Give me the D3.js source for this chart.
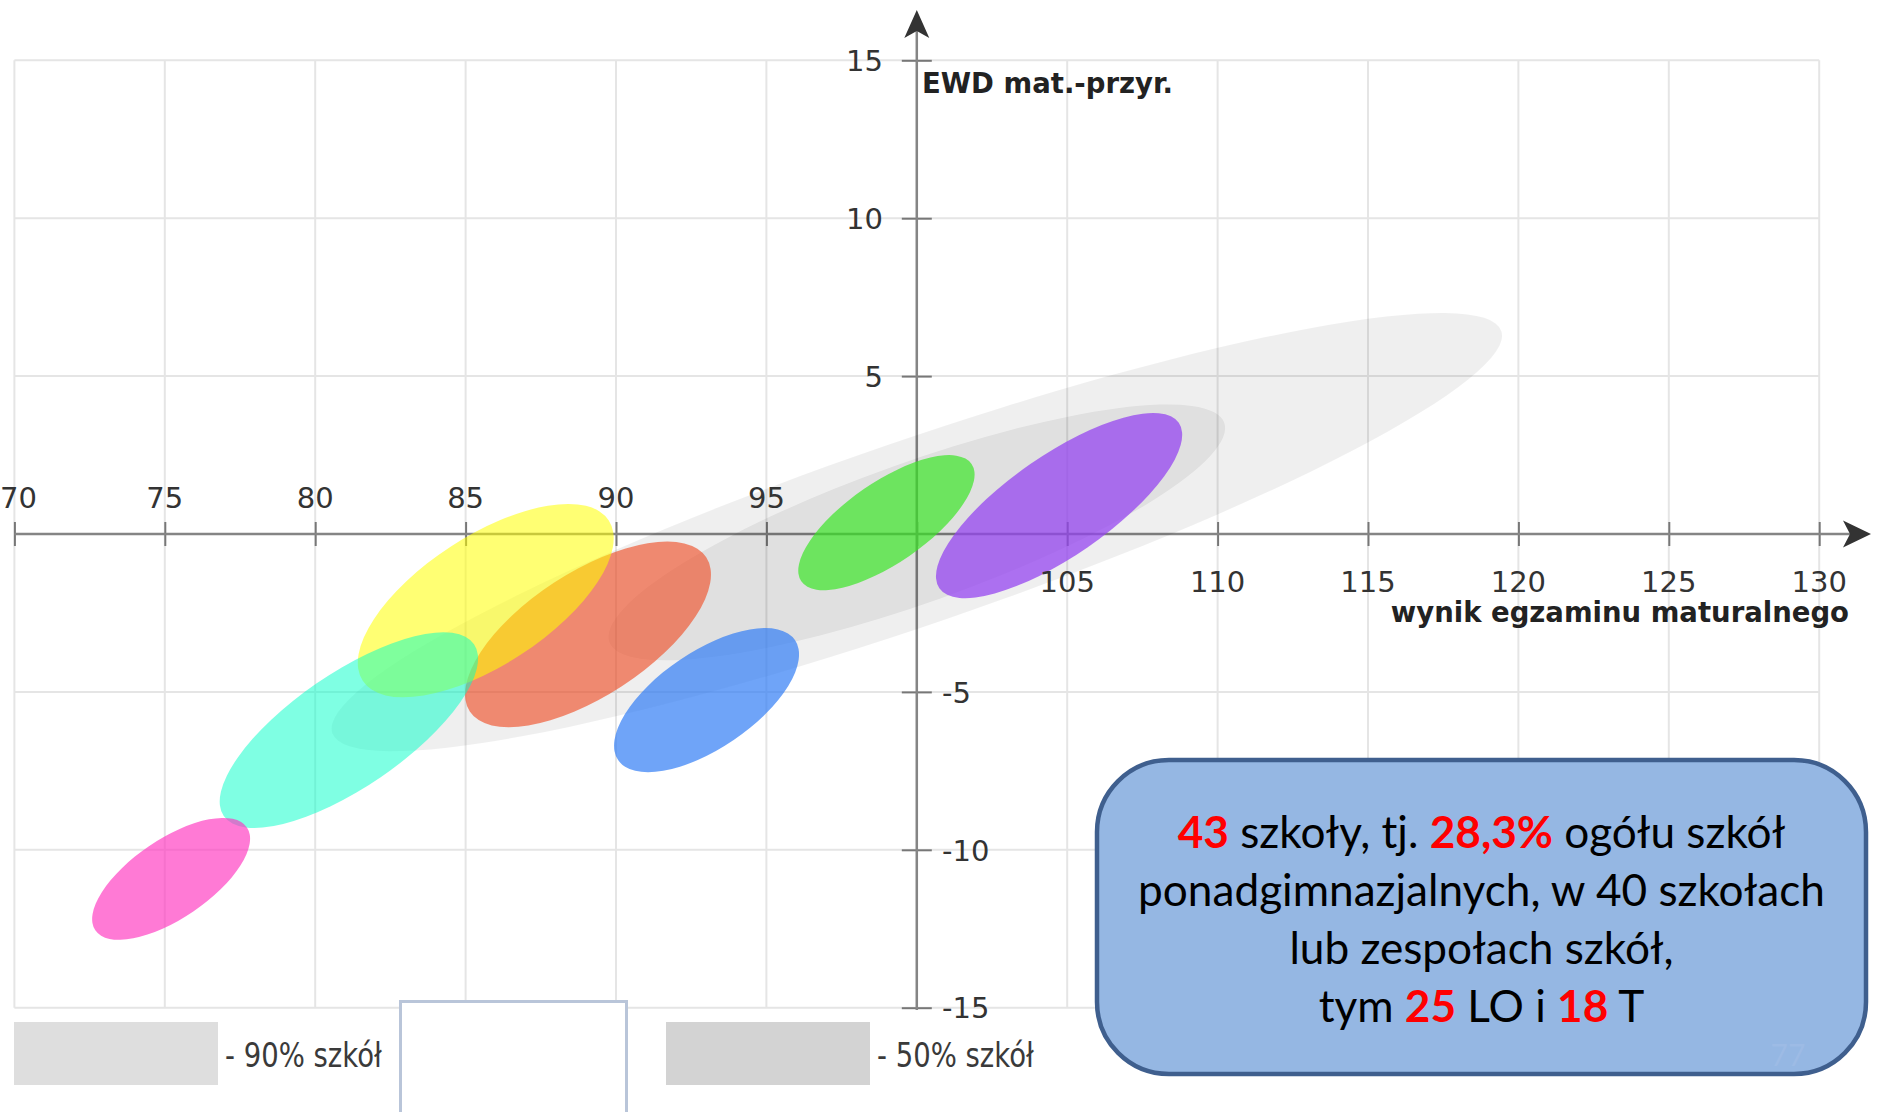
<!DOCTYPE html>
<html><head><meta charset="utf-8">
<script src="https://cdn.jsdelivr.net/npm/d3@7"></script>
<style>html,body{margin:0;padding:0;background:#fff;overflow:hidden}</style>
</head><body>
<svg id="chart" width="1878" height="1112"></svg>
<script>
// ---------- data ----------
const gridX = [70,75,80,85,90,95,100,105,110,115,120,125,130];
const gridY = [-15,-10,-5,0,5,10,15];
const xTickLabelsAbove = [70,75,80,85,90,95];
const xTickLabelsBelow = [105,110,115,120,125,130];
const yTickLabelsPos = [15,10,5];
const yTickLabelsNeg = [-5,-10,-15];
const xAxisTitle = "wynik egzaminu maturalnego";
const yAxisTitle = "EWD mat.-przyr.";

// grey reference ellipses (90% and 50% of schools): centre, tip of major axis, half-width (EWD units)
const bandLabels = ["- 90% szkół", "- 50% szkół"];
const bandCenterX = [100.0, 100.0];
const bandCenterY = [0.06, 0.05];
const bandTipX = [119.43, 110.22];
const bandTipY = [6.43, 3.52];
const bandHalfWidth = [2.91, 2.22];

// coloured school groups: centre, tip of major axis, half-width (EWD units)
const groupCenterX = [89.07, 85.67, 81.12, 75.21, 93.01, 98.99, 104.73];
const groupCenterY = [-3.18, -2.11, -6.21, -10.92, -5.26, 0.36, 0.90];
const groupTipX    = [93.00, 89.76, 85.28, 77.73, 95.95, 101.82, 108.71];
const groupTipY    = [-0.74, 0.43, -3.49, -9.29, -3.36, 2.22, 3.52];
const groupHalfWidth = [1.96, 2.04, 1.80, 1.25, 1.53, 1.28, 1.60];

// callout text
const calloutLines = [
  [["43",1],[" szkoły, tj. ",0],["28,3%",1],[" ogółu szkół",0]],
  [["ponadgimnazjalnych, w 40 szkołach",0]],
  [["lub zespołach szkół,",0]],
  [["tym ",0],["25",1],[" LO i ",0],["18",1],[" T",0]]
];
const pageNumber = "77";

// ---------- styles ----------
const groupColors = ["rgb(240,80,40)","rgb(255,255,0)","rgb(0,255,200)","rgb(255,50,190)","rgb(50,125,245)","rgb(60,230,40)","rgb(150,70,240)"];
const groupOpacity = [0.64,0.55,0.5,0.65,0.7,0.7,0.75];
const legendSwatchColors = ["#dedede","#d3d3d3"];

// ---------- drawing ----------
const svg = d3.select("#chart");
svg.append("rect").attr("width",1878).attr("height",1112).attr("fill","#fff");

const x = d3.scaleLinear().domain([70,130]).range([14.4, 1819.2]);
const y = d3.scaleLinear().domain([-15,15]).range([1007.7, 60.3]);

// grid
const grid = svg.append("g");
grid.selectAll("line.gx").data(gridX).join("line")
  .attr("x1",d=>x(d)).attr("x2",d=>x(d)).attr("y1",y(15)).attr("y2",y(-15))
  .attr("stroke","#e5e5e5").attr("stroke-width",2);
grid.selectAll("line.gy").data(gridY).join("line")
  .attr("x1",x(70)).attr("x2",x(130)).attr("y1",d=>y(d)).attr("y2",d=>y(d))
  .attr("stroke","#e5e5e5").attr("stroke-width",2);

// axes
const axG = svg.append("g");
const xAxis = d3.axisBottom(x).tickValues(gridX).tickFormat("").tickSizeOuter(0).tickSize(12);
const xg = axG.append("g").attr("transform",`translate(0,${y(0)})`).call(xAxis);
xg.select(".domain").remove();
xg.selectAll(".tick line").attr("y1",-12).attr("y2",12).attr("stroke","#777").attr("stroke-width",2);
const yAxis = d3.axisLeft(y).tickValues([15,10,5,-5,-10,-15]).tickFormat("").tickSizeOuter(0).tickSize(14);
const yg = axG.append("g").attr("transform",`translate(${x(100)},0)`).call(yAxis);
yg.select(".domain").remove();
yg.selectAll(".tick line").attr("x1",-15).attr("x2",15).attr("stroke","#777").attr("stroke-width",2);

axG.append("line").attr("x1",x(70)).attr("x2",1852).attr("y1",y(0)).attr("y2",y(0))
  .attr("stroke","#858585").attr("stroke-width",2.5);
axG.append("line").attr("x1",x(100)).attr("x2",x(100)).attr("y1",1010).attr("y2",28)
  .attr("stroke","#858585").attr("stroke-width",2.5);
// arrowheads
const ax0 = x(100), ay0 = y(0);
axG.append("path").attr("d",`M1871,${ay0} L1843,${ay0-13.5} L1850,${ay0} L1843,${ay0+13.5} Z`).attr("fill","#333");
axG.append("path").attr("d",`M${ax0},10 L${ax0-12.5},38 L${ax0},31 L${ax0+12.5},38 Z`).attr("fill","#333");

// grey bands and coloured groups
const ellG = svg.append("g");
function ellipse(g, cx, cy, tx, ty, w){
  const px = x(cx), py = y(cy), qx = x(tx), qy = y(ty);
  const a = Math.hypot(qx-px, qy-py);
  const ang = Math.atan2(qy-py, qx-px)*180/Math.PI;
  const b = y(0) - y(w);
  return g.append("ellipse").attr("cx",0).attr("cy",0).attr("rx",a).attr("ry",b)
    .attr("transform",`translate(${px},${py}) rotate(${ang})`);
}
bandCenterX.forEach((_,i)=>{
  ellipse(ellG, bandCenterX[i], bandCenterY[i], bandTipX[i], bandTipY[i], bandHalfWidth[i])
    .attr("fill","#000").attr("fill-opacity",0.063);
});
groupCenterX.forEach((_,i)=>{
  ellipse(ellG, groupCenterX[i], groupCenterY[i], groupTipX[i], groupTipY[i], groupHalfWidth[i])
    .attr("fill",groupColors[i]).attr("fill-opacity",groupOpacity[i]);
});

// tick labels
const lab = svg.append("g").attr("font-family","DejaVu Sans").attr("font-size",29).attr("fill","#333");
lab.selectAll("text.xa").data(xTickLabelsAbove).join("text")
  .attr("x",d=>d===70?0:x(d)).attr("y",508).attr("text-anchor",d=>d===70?"start":"middle").text(d=>d);
lab.selectAll("text.xb").data(xTickLabelsBelow).join("text")
  .attr("x",d=>x(d)).attr("y",592).attr("text-anchor","middle").text(d=>d);
lab.selectAll("text.yp").data(yTickLabelsPos).join("text")
  .attr("x",883).attr("y",d=>y(d)).attr("dy","0.37em").attr("text-anchor","end").text(d=>d);
lab.selectAll("text.yn").data(yTickLabelsNeg).join("text")
  .attr("x",942).attr("y",d=>y(d)).attr("dy","0.37em").attr("text-anchor","start").text(d=>String(d));

// axis titles
svg.append("text").attr("x",922).attr("y",93).attr("font-family","DejaVu Sans").attr("font-weight","bold")
  .attr("font-size",27.5).attr("fill","#222").text(yAxisTitle);
svg.append("text").attr("x",1849).attr("y",622).attr("text-anchor","end").attr("font-family","DejaVu Sans").attr("font-weight","bold")
  .attr("font-size",27.5).attr("fill","#222").text(xAxisTitle);

// legend
const legX = [14, 666];
const lg = svg.append("g");
bandLabels.forEach((t,i)=>{
  lg.append("rect").attr("x",legX[i]).attr("y",1022).attr("width",204).attr("height",63).attr("fill",legendSwatchColors[i]);
  lg.append("text").attr("transform",`translate(${legX[i]+211},1067) scale(1,1.22)`)
    .attr("font-family","DejaVu Sans").attr("font-size",27.5).attr("fill","#3a3a3a").text(t);
});
// empty framed box between legend items
svg.append("rect").attr("x",400.5).attr("y",1001.5).attr("width",226).attr("height",140)
  .attr("fill","#fff").attr("stroke","#b9c5d9").attr("stroke-width",3);

// callout box
const bx = 1097, by = 760, bw = 769, bh = 314;
svg.append("rect").attr("x",bx).attr("y",by).attr("width",bw).attr("height",bh).attr("rx",72).attr("ry",72)
  .attr("fill","#95b7e3").attr("stroke","#3f5f8e").attr("stroke-width",4.5);
svg.append("text").attr("x",1788).attr("y",1066).attr("text-anchor","middle").attr("font-family","Lato")
  .attr("font-size",30).attr("fill","#9dbbe5").text(pageNumber);

const ct = svg.append("g").attr("font-family","Lato").attr("text-anchor","middle");
const baselines = [848, 906, 964, 1022];
const texts = calloutLines.map((parts,i)=>{
  const t = ct.append("text").attr("x",bx+bw/2).attr("y",baselines[i]).attr("font-size",40);
  parts.forEach(([s,hl])=>{
    t.append("tspan").text(s).attr("fill",hl?"#ff0000":"#000").attr("font-weight",hl?"bold":"normal");
  });
  return t;
});
const w2 = texts[1].node().getComputedTextLength();
const fs = 40*687/w2;
texts.forEach(t=>t.attr("font-size",fs));
</script>
</body></html>
